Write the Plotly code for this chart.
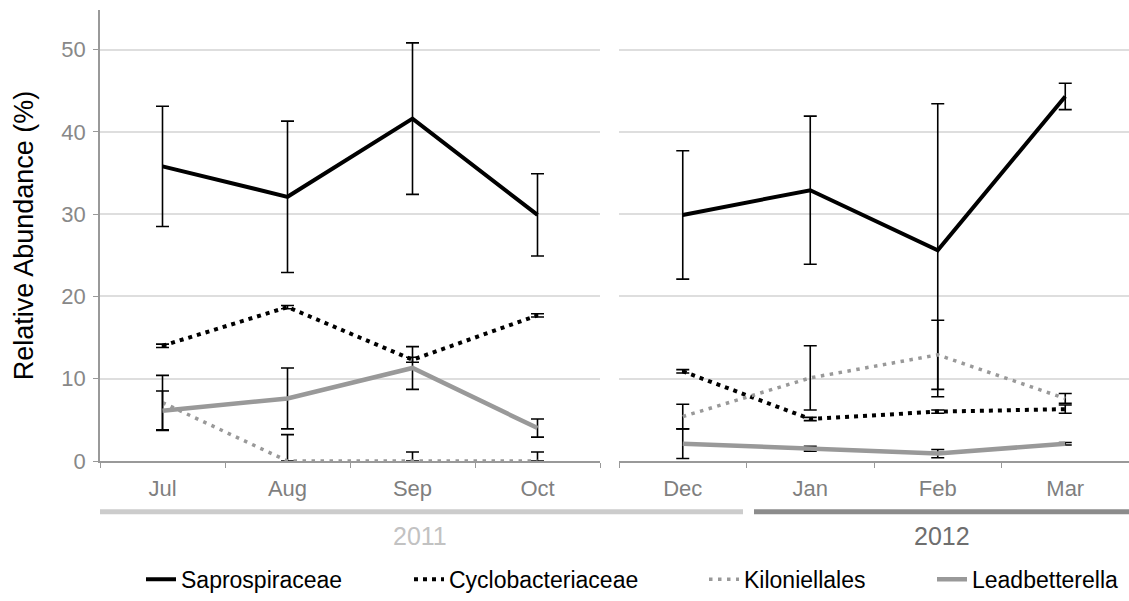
import plotly.graph_objects as go

months_2011 = ["Jul", "Aug", "Sep", "Oct"]
months_2012 = ["Dec", "Jan", "Feb", "Mar"]
years = ["2011", "2012"]

series = ["Saprospiraceae", "Cyclobacteriaceae", "Kiloniellales", "Leadbetterella"]

sapro_2011 = [35.8, 32.1, 41.6, 29.9]
sapro_2011_err = [7.3, 9.2, 9.2, 5.0]
sapro_2012 = [29.9, 32.9, 25.6, 44.3]
sapro_2012_err = [7.8, 9.0, 17.8, 1.6]

cyclo_2011 = [14.0, 18.7, 12.3, 17.7]
cyclo_2011_err = [0.2, 0.2, 0.3, 0.2]
cyclo_2012 = [10.9, 5.1, 6.0, 6.3]
cyclo_2012_err = [0.2, 0.2, 0.2, 0.5]

kilo_2011 = [7.1, 0.0, 0.0, 0.0]
kilo_2011_err_plus = [3.3, 3.2, 1.1, 1.1]
kilo_2011_err_minus = [3.3, 0.0, 0.0, 0.0]
kilo_2012 = [5.4, 10.1, 12.9, 7.6]
kilo_2012_err = [1.5, 3.9, 4.2, 0.6]

lead_2011 = [6.1, 7.6, 11.3, 4.0]
lead_2011_err = [2.4, 3.7, 2.6, 1.1]
lead_2012 = [2.1, 1.5, 0.9, 2.1]
lead_2012_err = [1.8, 0.3, 0.5, 0.15]

FONT = "Liberation Sans, Arial, Helvetica, sans-serif"

styles = {
    "Saprospiraceae": dict(color="#000000", width=4, dash="solid"),
    "Cyclobacteriaceae": dict(color="#000000", width=4, dash="4px,5px"),
    "Kiloniellales": dict(color="#999999", width=3.5, dash="3.5px,5.5px"),
    "Leadbetterella": dict(color="#999999", width=4.5, dash="solid"),
}

data = {
    "Saprospiraceae": [(sapro_2011, sapro_2011_err, sapro_2011_err), (sapro_2012, sapro_2012_err, sapro_2012_err)],
    "Cyclobacteriaceae": [(cyclo_2011, cyclo_2011_err, cyclo_2011_err), (cyclo_2012, cyclo_2012_err, cyclo_2012_err)],
    "Kiloniellales": [(kilo_2011, kilo_2011_err_plus, kilo_2011_err_minus), (kilo_2012, kilo_2012_err, kilo_2012_err)],
    "Leadbetterella": [(lead_2011, lead_2011_err, lead_2011_err), (lead_2012, lead_2012_err, lead_2012_err)],
}

W, H = 1129, 601
L, R, T, B = 100, 0, 10, 137
pw = W - L - R
ph = H - T - B

legend_names = ["legend", "legend2", "legend3", "legend4"]
legend_text_px = [182, 450, 745, 973]

fig = go.Figure()
for k, name in enumerate(series):
    for i, (vals, ep, em) in enumerate(data[name]):
        fig.add_trace(go.Scatter(
            x=months_2011 if i == 0 else months_2012,
            y=vals,
            mode="lines",
            name=name,
            legendgroup=name,
            legend=legend_names[k],
            showlegend=(i == 0),
            line=styles[name],
            error_y=dict(type="data", array=ep, arrayminus=em, symmetric=False,
                         color="#000000", thickness=1.6, width=6.5),
            xaxis="x" if i == 0 else "x2",
            yaxis="y",
        ))

xcommon = dict(
    type="category", tickson="boundaries", ticks="outside", ticklen=5,
    tickcolor="#999999", tickwidth=1.2, showline=True, linecolor="#999999",
    linewidth=1.5, showgrid=False, zeroline=False, ticklabelstandoff=7,
    tickfont=dict(family=FONT, size=22, color="#7f7f7f"),
    range=[-0.5, 3.5], fixedrange=True,
)

legend_y = (464 - 583) / ph
legends = {}
for k, lname in enumerate(legend_names):
    legends[lname] = dict(
        orientation="h", xref="paper", x=(legend_text_px[k] - 41 - L) / pw, xanchor="left",
        y=legend_y, yanchor="middle", bgcolor="rgba(0,0,0,0)",
        font=dict(family=FONT, size=23, color="#000000"),
    )

fig.update_layout(
    width=W, height=H,
    margin=dict(l=L, r=R, t=T, b=B, pad=0),
    paper_bgcolor="white", plot_bgcolor="white",
    font=dict(family=FONT),
    xaxis=dict(domain=[0, 500 / pw], anchor="y", **xcommon),
    xaxis2=dict(domain=[519 / pw, 1], anchor="y", **xcommon),
    yaxis=dict(
        range=[0, 54.8], tickvals=[0, 10, 20, 30, 40, 50],
        ticks="outside", ticklen=5, tickcolor="#999999", tickwidth=1.2,
        showline=True, linecolor="#999999", linewidth=1.5, ticklabelstandoff=3,
        showgrid=True, gridcolor="#dedede", gridwidth=1.5, zeroline=False,
        tickfont=dict(family=FONT, size=22, color="#888888"),
        title=dict(text="Relative Abundance (%)", font=dict(family=FONT, size=27, color="#000000"), standoff=20),
        anchor="x",
    ),
    showlegend=True,
    **legends,
)

bar_y = (464 - 515) / ph
fig.add_shape(type="line", xref="paper", yref="paper", x0=0, x1=(743 - L) / pw,
              y0=bar_y, y1=bar_y, line=dict(color="#cccccc", width=5))
fig.add_shape(type="line", xref="paper", yref="paper", x0=(754 - L) / pw, x1=1.0,
              y0=bar_y, y1=bar_y, line=dict(color="#8c8c8c", width=5))

year_y = (464 - 540) / ph
fig.add_annotation(text=years[0], xref="paper", yref="paper", x=(420 - L) / pw, y=year_y,
                   showarrow=False, xanchor="center", yanchor="middle",
                   font=dict(family=FONT, size=25, color="#c2c2c2"))
fig.add_annotation(text=years[1], xref="paper", yref="paper", x=(942 - L) / pw, y=year_y,
                   showarrow=False, xanchor="center", yanchor="middle",
                   font=dict(family=FONT, size=25, color="#6e6e6e"))

fig.write_html("out.html")
